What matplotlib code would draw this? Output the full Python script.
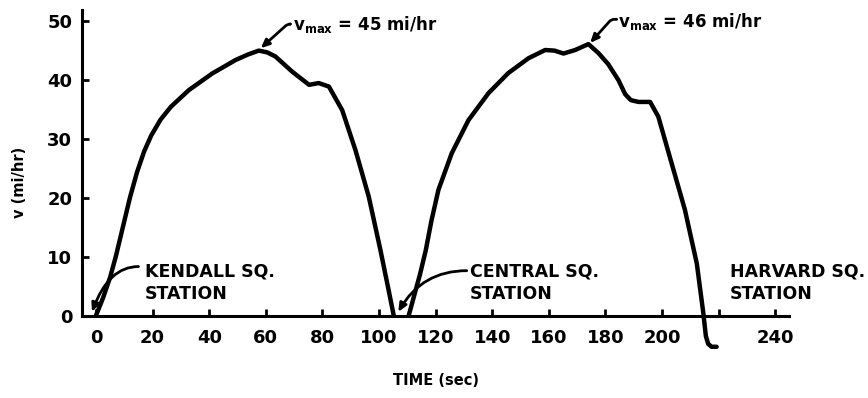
import matplotlib
matplotlib.use('Agg')
import matplotlib.pyplot as plt

# Kendall Sq. -> Central Sq.
t1 = [0, 2.5, 5, 7, 9.5, 12, 14.5, 17, 19.5, 22.8, 26.5, 32.8, 41, 49.3, 53.5, 57.5, 60.5,
      63.4, 69.4, 75.3, 78.7, 82.3, 87, 91.7, 96.4, 100.5, 103.4, 105.2]
v1 = [0, 3, 6.5, 10, 15, 20, 24.3, 27.8, 30.5, 33.2, 35.4, 38.2, 41, 43.3, 44.2, 44.9, 44.6,
      43.9, 41.3, 39.1, 39.4, 38.8, 34.8, 28, 20.1, 11.1, 4.3, 0]

# Central Sq. -> Harvard Sq.
t2 = [110.5, 112.5, 114.5, 116.5, 118.5, 121, 125.7, 131.6, 138.7, 145.7, 152.8, 158.7,
      162, 165.2, 169.3, 174, 177.5, 181, 184.6, 187, 189, 191.7, 195.8, 198.7, 203.4,
      208.1, 212.3, 214.6, 215.5, 216.3, 217.5, 219.3]
v2 = [0, 3.5, 7, 11, 16, 21.3, 27.5, 33.1, 37.7, 41.1, 43.6, 45, 44.9, 44.4, 45, 46,
      44.5, 42.6, 39.9, 37.5, 36.5, 36.2, 36.2, 33.7, 25.8, 17.9, 8.8, 0.4, -3.5, -4.8,
      -5.3, -5.3]

xticks = [0, 20, 40, 60, 80, 100, 120, 140, 160, 180, 200, 220, 240]
xlabels = ['0', '20', '40', '60', '80', '100', '120', '140', '160', '180', '200', '', '240']
yticks = [0, 10, 20, 30, 40, 50]

stations = ['KENDALL SQ.\nSTATION', 'CENTRAL SQ.\nSTATION', 'HARVARD SQ.\nSTATION']
station_t = [17.4, 132, 224]
vmax_labels = [r'$\mathbf{v_{max}}$ = 45 mi/hr', r'$\mathbf{v_{max}}$ = 46 mi/hr']

fig = plt.figure(figsize=(8.68, 3.98), dpi=100)
ax = fig.add_axes([0.0943, 0.1035, 0.8151, 0.8746])

ax.plot(t1, v1, color='black', lw=3.2, solid_capstyle='round', solid_joinstyle='round')
ax.plot(t2, v2, color='black', lw=3.2, solid_capstyle='round', solid_joinstyle='round')

ax.set_xlim(-5, 245)
ax.set_ylim(-7, 52)
for s in ['top', 'right']:
    ax.spines[s].set_visible(False)
ax.spines['bottom'].set_position(('data', 0))
ax.spines['left'].set_bounds(0, 51.8)
ax.spines['bottom'].set_linewidth(2.2)
ax.spines['left'].set_linewidth(2.2)

ax.set_xticks(xticks)
ax.set_xticklabels(xlabels)
ax.set_yticks(yticks)
ax.tick_params(axis='x', direction='in', length=5, width=2, pad=10, labelsize=13)
ax.tick_params(axis='y', direction='in', length=5, width=2, pad=7, labelsize=13)
for lab in ax.get_xticklabels() + ax.get_yticklabels():
    lab.set_fontweight('bold')

ax.set_ylabel('v (mi/hr)', fontsize=10.5, fontweight='bold', labelpad=6)
ax.yaxis.set_label_coords(-0.077, 0.5)
fig.text(0.5 * (0.0943 * 2 + 0.8151), 0.045, 'TIME (sec)', ha='center', va='center',
         fontsize=10.5, fontweight='bold')

# station labels
for name, t in zip(stations, station_t):
    ax.text(t, 5.6, name, ha='left', va='center', fontsize=12.5, fontweight='bold',
            linespacing=1.35)

arrow = dict(arrowstyle='-|>,head_length=0.5,head_width=0.22', color='black', lw=2,
             shrinkA=0, shrinkB=0)
ax.annotate('', xy=(-1.4, 0.6), xytext=(15, 8.3),
            arrowprops=dict(arrow, connectionstyle='angle3,angleA=0,angleB=70'))
ax.annotate('', xy=(106.8, 0.6), xytext=(131, 7.6),
            arrowprops=dict(arrow, connectionstyle='angle3,angleA=0,angleB=60'))

# v max labels
ax.text(69.5, 49.4, vmax_labels[0], ha='left', va='center', fontsize=12, fontweight='bold')
ax.text(184.5, 49.8, vmax_labels[1], ha='left', va='center', fontsize=12, fontweight='bold')
ax.annotate('', xy=(58.2, 45.3), xytext=(68.6, 49.4),
            arrowprops=dict(arrow, connectionstyle='angle,angleA=0,angleB=42,rad=3'))
ax.annotate('', xy=(174.6, 46.2), xytext=(184.0, 50.2),
            arrowprops=dict(arrow, connectionstyle='angle,angleA=0,angleB=48,rad=3'))

fig.savefig('out.png', dpi=100)
